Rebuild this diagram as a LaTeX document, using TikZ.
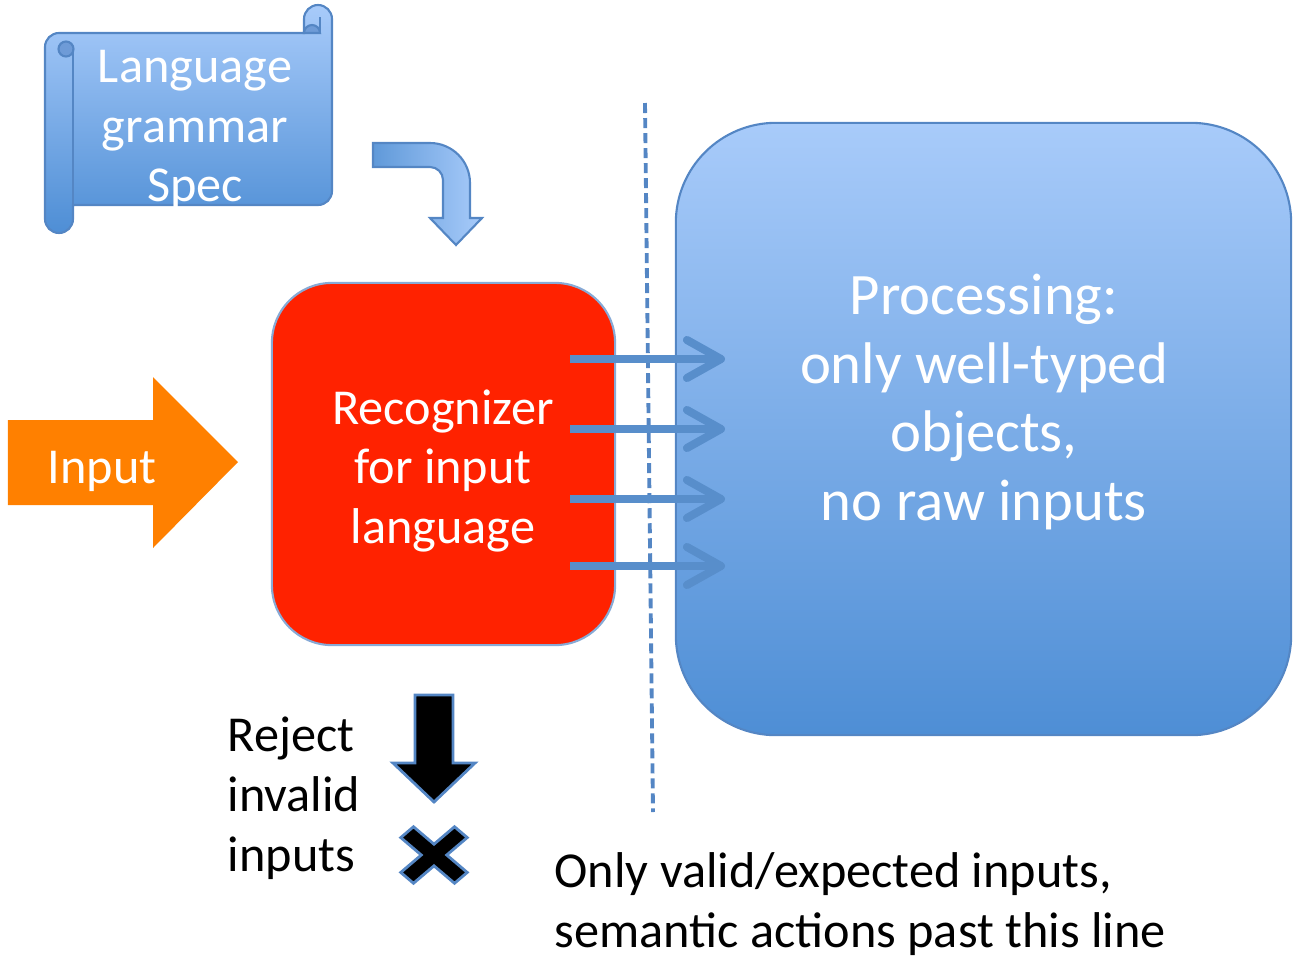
\documentclass[tikz,border=0pt]{standalone}
\usepackage{fontspec}
\setmainfont{Carlito}
\usetikzlibrary{arrows.meta}

\definecolor{recred}{RGB}{255,34,0}
\definecolor{inorange}{RGB}{255,128,0}
\definecolor{boxtop}{RGB}{168,203,250}
\definecolor{boxbot}{RGB}{78,142,213}
\definecolor{rimblue}{RGB}{84,134,196}
\definecolor{flowblue}{RGB}{88,142,203}
\definecolor{curlblue}{RGB}{110,155,215}

\begin{document}
\begin{tikzpicture}[x=0.01cm, y=-0.01cm,
    txt/.style={font=\fontsize{14.3}{17}\selectfont, align=center, inner sep=0pt},
    bigtxt/.style={font=\fontsize{16.7}{19.6}\selectfont, align=center, inner sep=0pt, text=white},
    bigbox/.style={draw=rimblue, line width=0.6pt, top color=boxtop, bottom color=boxbot, rounded corners=1.0cm, minimum width=6.15cm, minimum height=6.12cm},
    recbox/.style={draw=rimblue!70, line width=0.6pt, fill=recred, rounded corners=0.6cm, minimum width=3.43cm, minimum height=3.62cm},
    scroll/.style={draw=rimblue, line width=0.6pt, top color=boxtop, bottom color=boxbot},
    curl/.style={draw=rimblue, line width=0.6pt, fill=curlblue},
    bent/.style={draw=rimblue, line width=0.6pt, left color=boxbot!90, right color=boxtop},
    blackmark/.style={draw=rimblue, line width=0.8pt, fill=black},
    sepline/.style={draw=rimblue, line width=1.1pt, dash pattern=on 0.1cm off 0.05cm},
    flow/.style={draw=flowblue, line width=2.3pt, -{Straight Barb[length=0.34cm, width=0.38cm, round]}}]

    \useasboundingbox (0,0) rectangle (1299,966);

    % Grammar scroll
    \path[scroll] (45,219) -- (45,47) arc[start angle=180, end angle=270, radius=14]
        -- (304,33) -- (304,19) arc[start angle=180, end angle=360, radius=14]
        -- (332,191) arc[start angle=0, end angle=90, radius=14]
        -- (73,205) -- (73,219) arc[start angle=0, end angle=180, radius=14] -- cycle;
    \path[curl] (66,49) circle[radius=7.5];
    \draw[rimblue, line width=0.6pt] (73,49) -- (73,205);
    \path[curl] (304,33) arc[start angle=180, end angle=360, radius=8] -- cycle;
    \draw[rimblue, line width=0.6pt] (320,33) -- (320,17);
    \node[txt, text=white] (spec) at (195,130) {Language\\grammar\\Spec};

    % Bent arrow into the recognizer
    \path[bent] (373,143) -- (430,143) arc[start angle=270, end angle=360, radius=40]
        -- (470,218) -- (482,218) -- (456,245) -- (430,218) -- (443,218)
        -- (443,180) arc[start angle=360, end angle=270, radius=13] -- (373,167) -- cycle;

    % Boxes
    \node[recbox] (recog) at (443.5,464) {};
    \node[txt, text=white] (recogtxt) at (443,471) {Recognizer\\for input\\language};
    \node[bigbox] (proc) at (983.5,429) {};
    \node[bigtxt] (proctxt) at (984,402) {Processing:\\only well-typed\\objects,\\no raw inputs};

    % Input arrow
    \fill[inorange] (8,420) -- (153,420) -- (153,377) -- (238,462) -- (153,548)
        -- (153,505) -- (8,505) -- cycle;
    \node[txt, text=white] (input) at (102,471) {Input};

    % Trust boundary
    \draw[sepline] (645,103) -- (653,812);

    % Typed objects passed on
    \foreach \i/\y in {1/359, 2/429, 3/499, 4/566} {
        \coordinate (out\i) at (570,\y);
        \coordinate (in\i) at (725,\y);
        \draw[flow] (out\i) -- (in\i);
    }

    % Rejection
    \path[blackmark] (415,695) -- (453,695) -- (453,763) -- (475,763) -- (434,802)
        -- (393,763) -- (415,763) -- cycle;
    \begin{scope}[shift={(434,855)}, yscale=0.85, rotate=45]
        \path[blackmark] (9,9) -- (38,9) -- (38,-9) -- (9,-9) -- (9,-38) -- (-9,-38)
            -- (-9,-9) -- (-38,-9) -- (-38,9) -- (-9,9) -- (-9,38) -- (9,38) -- cycle;
    \end{scope}
    \node[txt, align=left, anchor=west] (reject) at (227,798) {Reject\\invalid\\inputs};
    \node[txt, align=left, anchor=west] (past) at (554,904) {Only valid/expected inputs,\\semantic actions past this line};

\end{tikzpicture}
\end{document}
